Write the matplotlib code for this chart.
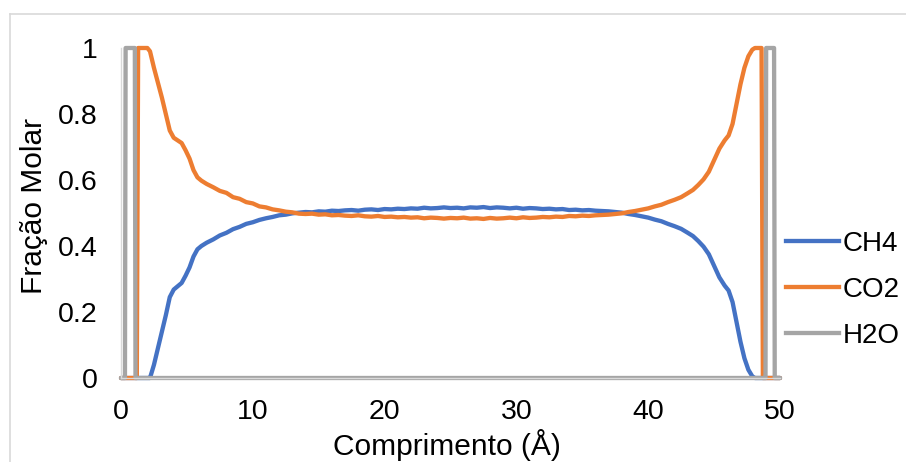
import matplotlib
matplotlib.use("Agg")
import matplotlib.pyplot as plt
from matplotlib.lines import Line2D

plt.rcParams['font.family'] = ['Liberation Sans', 'DejaVu Sans']

# Position along the box (Å)
comprimento = [0.0, 0.3, 0.35, 1.05, 1.1, 1.2, 1.3, 1.7, 2.0, 2.2, 2.5, 2.8, 3.1, 3.4, 3.7,
               4.0, 4.3, 4.6, 4.9, 5.2, 5.5, 5.8, 6.1, 6.5,
               7.0, 7.5, 8.0, 8.5, 9.0, 9.5, 10.0, 10.5, 11.0, 11.5, 12.0, 12.5, 13.0, 13.5,
               14.0, 14.5, 15.0, 15.5, 16.0, 16.5, 17.0, 17.5, 18.0, 18.5, 19.0, 19.5,
               20.0, 20.5, 21.0, 21.5, 22.0, 22.5, 23.0, 23.5, 24.0, 24.5, 25.0, 25.5,
               26.0, 26.5, 27.0, 27.5, 28.0, 28.5, 29.0, 29.5, 30.0, 30.5, 31.0, 31.5,
               32.0, 32.5, 33.0, 33.5, 34.0, 34.5, 35.0, 35.5, 36.0, 36.5, 37.0, 37.5,
               38.0, 38.5, 39.0, 39.5, 40.0, 40.5, 41.0, 41.5, 42.0, 42.5, 43.0,
               43.4, 43.8, 44.2, 44.6, 45.0, 45.4, 45.8, 46.1, 46.4, 46.7, 47.0, 47.3,
               47.6, 47.9, 48.1, 48.6, 48.7, 48.9, 48.95, 49.55, 49.6, 50.0]

ch4 = [0, 0, 0, 0, 0, 0, 0, 0, 0, 0.0, 0.04, 0.09, 0.14, 0.19, 0.245,
       0.268, 0.278, 0.288, 0.310, 0.335, 0.368, 0.390, 0.400, 0.41,
       0.42, 0.432, 0.44, 0.451, 0.458, 0.467, 0.472, 0.479, 0.484, 0.488, 0.493, 0.495, 0.499, 0.501,
       0.503, 0.502, 0.505, 0.504, 0.507, 0.506, 0.508, 0.509, 0.507, 0.510, 0.511, 0.509,
       0.512, 0.511, 0.513, 0.512, 0.514, 0.513, 0.516, 0.514, 0.515, 0.517, 0.515, 0.516,
       0.514, 0.517, 0.516, 0.518, 0.515, 0.517, 0.516, 0.514, 0.516, 0.513, 0.515, 0.514,
       0.512, 0.513, 0.511, 0.512, 0.509, 0.510, 0.508, 0.509, 0.507, 0.506, 0.505, 0.503,
       0.501, 0.497, 0.494, 0.490, 0.486, 0.480, 0.475, 0.467, 0.460, 0.452, 0.440,
       0.430, 0.415, 0.398, 0.375, 0.340, 0.305, 0.280, 0.265, 0.230, 0.170, 0.110, 0.060,
       0.025, 0.005, 0, 0, 0, 0, 0, 0, 0, 0]

co2 = [0, 0, 0, 0, 0, 0, 1, 1, 1, 0.99, 0.94, 0.895, 0.85, 0.80, 0.75,
       0.728, 0.720, 0.712, 0.690, 0.665, 0.630, 0.608, 0.598, 0.588,
       0.578, 0.567, 0.561, 0.548, 0.543, 0.533, 0.529, 0.520, 0.517, 0.511, 0.508, 0.504, 0.502, 0.498,
       0.497, 0.498, 0.495, 0.496, 0.493, 0.494, 0.492, 0.491, 0.493, 0.490, 0.489, 0.491,
       0.488, 0.489, 0.487, 0.488, 0.486, 0.487, 0.484, 0.486, 0.485, 0.483, 0.485, 0.484,
       0.486, 0.483, 0.484, 0.482, 0.485, 0.483, 0.484, 0.486, 0.484, 0.487, 0.485, 0.486,
       0.488, 0.487, 0.489, 0.488, 0.491, 0.490, 0.492, 0.491, 0.493, 0.494, 0.495, 0.497,
       0.499, 0.503, 0.506, 0.510, 0.514, 0.520, 0.525, 0.533, 0.540, 0.548, 0.560,
       0.570, 0.585, 0.602, 0.625, 0.660, 0.695, 0.720, 0.735, 0.770, 0.830, 0.890, 0.940,
       0.975, 0.995, 1, 1, 0, 0, 0, 0, 0, 0]

h2o = [0, 0, 1, 1, 0, 0, 0, 0, 0, 0, 0, 0, 0, 0, 0,
       0, 0, 0, 0, 0, 0, 0, 0, 0,
       0, 0, 0, 0, 0, 0, 0, 0, 0, 0, 0, 0, 0, 0,
       0, 0, 0, 0, 0, 0, 0, 0, 0, 0, 0, 0,
       0, 0, 0, 0, 0, 0, 0, 0, 0, 0, 0, 0,
       0, 0, 0, 0, 0, 0, 0, 0, 0, 0, 0, 0,
       0, 0, 0, 0, 0, 0, 0, 0, 0, 0, 0, 0,
       0, 0, 0, 0, 0, 0, 0, 0, 0, 0, 0,
       0, 0, 0, 0, 0, 0, 0, 0, 0, 0, 0, 0,
       0, 0, 0, 0, 0, 0, 1, 1, 0, 0]

series_names = ["CH4", "CO2", "H2O"]
series_colors = ["#4472C4", "#ED7D31", "#A5A5A5"]
x_ticks = [0, 10, 20, 30, 40, 50]
y_ticks = [0, 0.2, 0.4, 0.6, 0.8, 1]
y_tick_labels = ["0", "0.2", "0.4", "0.6", "0.8", "1"]

W, H = 906, 462
fig = plt.figure(figsize=(W / 100, H / 100), dpi=100)
ax = fig.add_axes([121 / W, (H - 378) / H, (780 - 121) / W, (378 - 48) / H])

LW = 3.1
for vals, name, col in zip([ch4, co2, h2o], series_names, series_colors):
    ax.plot(comprimento, vals, color=col, lw=LW, label=name,
            solid_joinstyle='round', solid_capstyle='round', clip_on=False)

ax.set_xlim(0, 50)
ax.set_ylim(0, 1)
ax.set_xticks(x_ticks)
ax.set_yticks(y_ticks)
ax.set_yticklabels(y_tick_labels)
ax.tick_params(length=0, labelsize=20.5, colors='black')
ax.tick_params(axis='y', pad=17)
ax.tick_params(axis='x', pad=15)
for s in ['top', 'right']:
    ax.spines[s].set_visible(False)
for s in ['left', 'bottom']:
    ax.spines[s].set_color('#D9D9D9')
    ax.spines[s].set_linewidth(1.0)

ax.set_xlabel("Comprimento (Å)", fontsize=21.5, labelpad=0)
ax.xaxis.set_label_coords((447 - 121) / (780 - 121), -(429 - 378) / 330)
ax.set_ylabel("Fração Molar", fontsize=21.5)
ax.yaxis.set_label_coords(-(121 - 48) / 659, (378 - 206) / 330)

handles = [Line2D([0], [0], color=c, lw=LW) for c in series_colors]
fig.legend(handles, series_names, loc='center left', frameon=False, fontsize=20,
           bbox_to_anchor=(786 / W, 1 - 290 / H), handlelength=1.9,
           handletextpad=0.15, labelspacing=0.72, borderaxespad=0, borderpad=0)

# outer chart border
fig.add_artist(Line2D([9.5 / W, 9.5 / W], [0, 1 - 13.5 / H], color='#D9D9D9', lw=1.2,
                      transform=fig.transFigure))
fig.add_artist(Line2D([9.5 / W, 1], [1 - 13.5 / H, 1 - 13.5 / H], color='#D9D9D9', lw=1.2,
                      transform=fig.transFigure))

fig.savefig("out.png", dpi=100)
